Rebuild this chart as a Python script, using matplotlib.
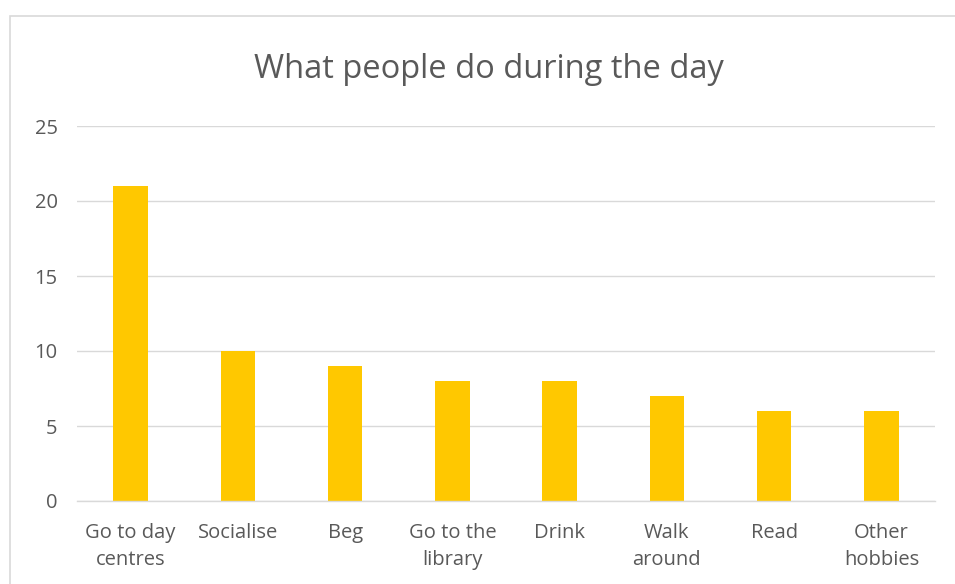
import matplotlib
matplotlib.use("Agg")
import matplotlib.pyplot as plt
from matplotlib.patches import Rectangle

# Atividades ao longo do dia
categorias = ["Go to day\ncentres", "Socialise", "Beg", "Go to the\nlibrary",
              "Drink", "Walk\naround", "Read", "Other\nhobbies"]
valores = [21, 10, 9, 8, 8, 7, 6, 6]
yticks = [0, 5, 10, 15, 20, 25]

cor_barra = "#FFC800"
cor_texto = "#595959"
cor_grade = "#D9D9D9"

plt.rcParams["font.family"] = ["Open Sans", "DejaVu Sans"]

fig = plt.figure(figsize=(9.55, 5.84), dpi=100)
ax = fig.add_axes([77 / 955, 1 - 501 / 584, 858 / 955, 375 / 584])

# moldura do gráfico
fig.patches.append(Rectangle((9.5 / 955, -0.05), 1.2, 1.05 - 15.5 / 584,
                             transform=fig.transFigure, fill=False,
                             edgecolor="#D9D9D9", linewidth=1.2))

x = range(len(categorias))
ax.bar(x, valores, width=0.32, color=cor_barra, zorder=3)

ax.set_xlim(-0.5, len(categorias) - 0.5)
ax.set_ylim(0, 25)
ax.set_yticks(yticks)
ax.set_xticks(list(x))
ax.set_xticklabels(categorias, fontsize=14.5, color=cor_texto, linespacing=1.45)
ax.tick_params(axis="y", labelsize=14.5, labelcolor=cor_texto, length=0, pad=14)
ax.tick_params(axis="x", length=0, pad=16)

ax.grid(axis="y", color=cor_grade, linewidth=1, zorder=0)
for lado in ["top", "right", "left"]:
    ax.spines[lado].set_visible(False)
ax.spines["bottom"].set_color(cor_grade)
ax.spines["bottom"].set_linewidth(1)
ax.spines["bottom"].set_zorder(4)

fig.text(489 / 955, 1 - 70 / 584, "What people do during the day",
         ha="center", va="center", fontsize=23.5, color=cor_texto)

fig.savefig("out.png", dpi=100)
